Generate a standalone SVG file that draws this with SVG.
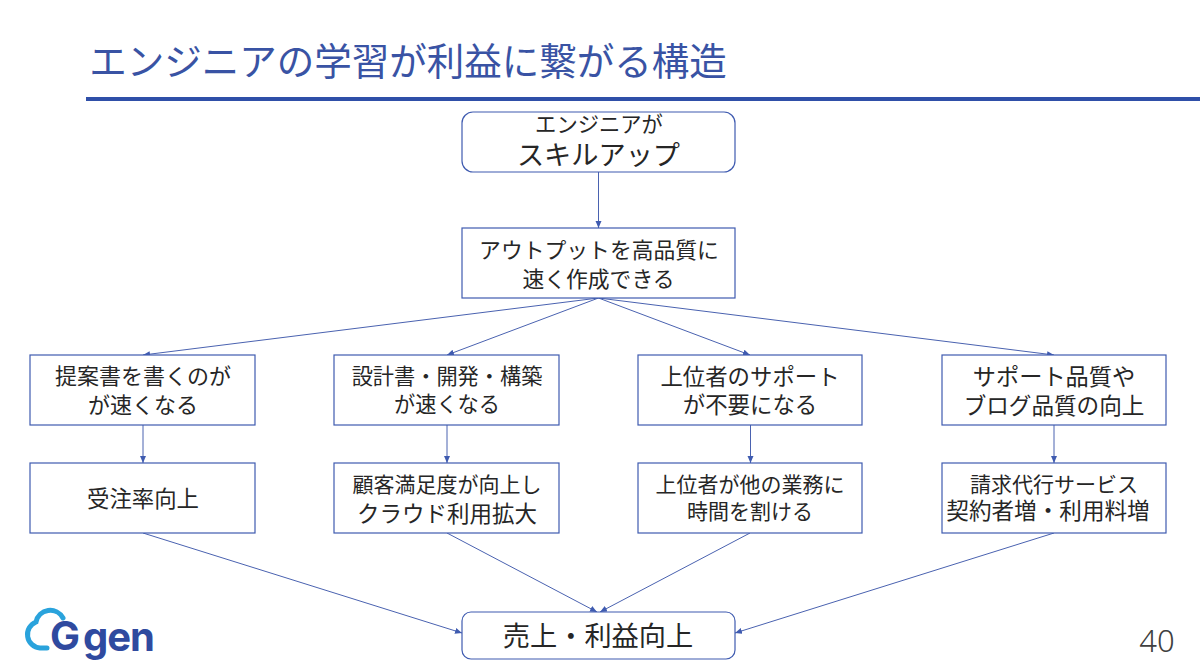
<svg xmlns="http://www.w3.org/2000/svg" width="1200" height="671" viewBox="0 0 1200 671">
<style>
text{font-family:"Noto Sans CJK JP","Noto Sans",sans-serif;fill:#262626;text-anchor:middle}
.b{fill:#fff;stroke:#3f5bb0;stroke-width:1.2}
.c{fill:none;stroke:#4a62b0;stroke-width:1;marker-end:url(#a)}
.l{font-family:Inter,"Liberation Sans",sans-serif;font-weight:700;fill:#2f4a9f}
</style>
<defs><marker id="a" markerUnits="userSpaceOnUse" markerWidth="8" markerHeight="8" refX="7" refY="3" orient="auto"><path d="M0,0L7,3L0,6Z" fill="#3f5bb0"/></marker></defs>
<rect width="1200" height="671" fill="#fff"/>
<g id="header">
<text x="408" y="75" font-size="37.500" style="fill:#3953a4">エンジニアの学習が利益に繋がる構造</text>
<rect x="86" y="97" width="1114" height="4" fill="#2f4fa8"/>
</g>
<g id="connectors">
<path class="c" d="M598.500 172V228"/>
<path class="c" d="M598.500 298L143 355"/>
<path class="c" d="M598.500 298L447 355"/>
<path class="c" d="M598.500 298L750 355"/>
<path class="c" d="M598.500 298L1054 355"/>
<path class="c" d="M143 425V463"/>
<path class="c" d="M447 425V463"/>
<path class="c" d="M750.500 425V463"/>
<path class="c" d="M1054 425V463"/>
<path class="c" d="M143 533L462 633"/>
<path class="c" d="M447 533L597 612"/>
<path class="c" d="M750 533L600 612"/>
<path class="c" d="M1054 533L735 633"/>
</g>
<g id="n1"><rect class="b" x="462" y="112" width="273" height="60" rx="11"/><text x="599" y="132" font-size="21.300">エンジニアが</text><text x="598.500" y="165" font-size="27.200">スキルアップ</text></g>
<g id="n2"><rect class="b" x="462" y="228" width="273" height="70"/><text x="599" y="258" font-size="21.800">アウトプットを高品質に</text><text x="598.500" y="287" font-size="21.800">速く作成できる</text></g>
<g id="n3"><rect class="b" x="30" y="355" width="225" height="70"/><text x="143" y="384" font-size="22">提案書を書くのが</text><text x="143" y="413" font-size="22">が速くなる</text></g>
<g id="n4"><rect class="b" x="334" y="355" width="225" height="70"/><text x="447" y="384" font-size="21.200">設計書・開発・構築</text><text x="447" y="412" font-size="21.200">が速くなる</text></g>
<g id="n5"><rect class="b" x="638" y="355" width="224" height="70"/><text x="750" y="385" font-size="22.400">上位者のサポート</text><text x="750" y="413" font-size="22.400">が不要になる</text></g>
<g id="n6"><rect class="b" x="942" y="355" width="224" height="70"/><text x="1054" y="385" font-size="23.200">サポート品質や</text><text x="1054" y="414" font-size="22.600">ブログ品質の向上</text></g>
<g id="n7"><rect class="b" x="30" y="463" width="225" height="70"/><text x="143" y="507" font-size="22.400">受注率向上</text></g>
<g id="n8"><rect class="b" x="334" y="463" width="225" height="70"/><text x="447" y="492" font-size="21">顧客満足度が向上し</text><text x="447" y="522" font-size="22.500">クラウド利用拡大</text></g>
<g id="n9"><rect class="b" x="638" y="463" width="224" height="70"/><text x="750" y="492" font-size="21">上位者が他の業務に</text><text x="750" y="519" font-size="21">時間を割ける</text></g>
<g id="n10"><rect class="b" x="942" y="463" width="224" height="70"/><text x="1054" y="492" font-size="21">請求代行サービス</text><text x="1048" y="519" font-size="22.600">契約者増・利用料増</text></g>
<g id="n11"><rect class="b" x="462" y="612" width="273" height="47" rx="9"/><text x="598" y="646" font-size="27.200">売上・利益向上</text></g>
<g id="logo">
<path d="M47 648H40A13.500 13.500 0 0 1 36 622A14.500 14.500 0 0 1 63 618" fill="none" stroke="#2aa3dc" stroke-width="5" stroke-linecap="round"/>
<text class="l" x="65" y="650" font-size="40">G</text>
<text class="l" x="83" y="651" font-size="40" textLength="72" style="text-anchor:start">gen</text>
</g>
<text id="page" x="1157" y="652" font-size="31" style="font-family:'Noto Sans',sans-serif;font-weight:300;fill:#404040">40</text>
</svg>
